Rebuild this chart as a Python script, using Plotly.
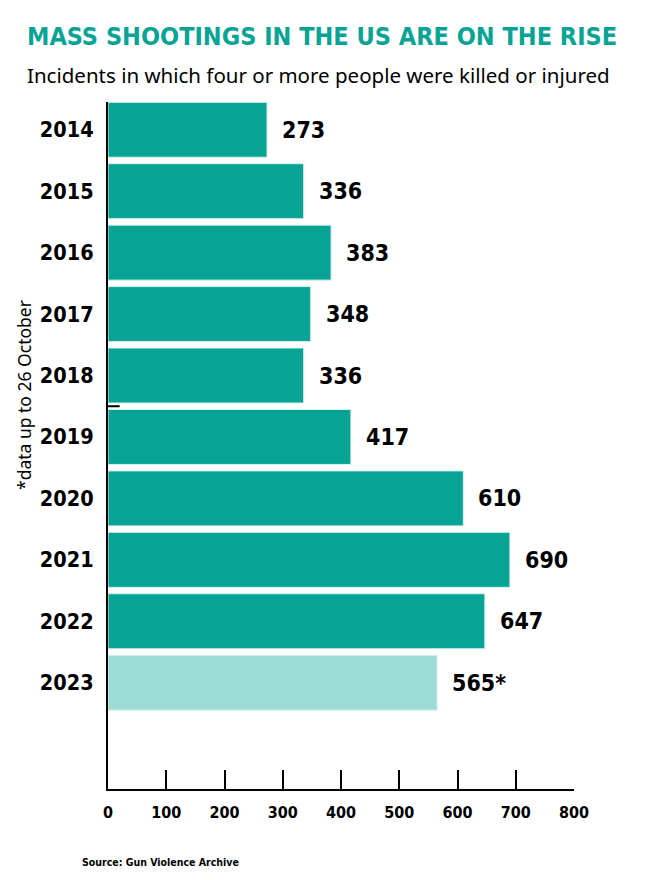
import plotly.graph_objects as go

years = ["2014", "2015", "2016", "2017", "2018", "2019", "2020", "2021", "2022", "2023"]
incidents = [273, 336, 383, 348, 336, 417, 610, 690, 647, 565]
value_labels = ["273", "336", "383", "348", "336", "417", "610", "690", "647", "565*"]
x_ticks = [0, 100, 200, 300, 400, 500, 600, 700, 800]

TEAL = "#07a496"
PALE = "#9ddcd6"
COND = "DejaVu Sans Condensed, sans-serif"
REG = "Noto Sans, Open Sans, sans-serif"

# 2023 is partial data -> lighter shade
bar_colors = [TEAL] * (len(years) - 1) + [PALE]

# plot area in px (page body adds 8px offset)
L, T, W, H = 100, 94, 466, 687

fig = go.Figure()
fig.add_trace(go.Bar(
    y=years, x=incidents, orientation="h",
    marker=dict(color=bar_colors, line=dict(color="#d9f2ef", width=1)),
    hoverinfo="skip",
))

# value labels right of each bar (y by category index)
for i, (v, lab) in enumerate(zip(incidents, value_labels)):
    fig.add_annotation(x=v, y=i, xref="x", yref="y", text="<b>" + lab + "</b>",
                       showarrow=False, xanchor="left", yanchor="middle", xshift=13,
                       font=dict(family=COND, size=23, color="black"))

fig.update_layout(
    width=654, height=880,
    margin=dict(l=L, r=654 - L - W, t=T, b=880 - T - H),
    paper_bgcolor="white", plot_bgcolor="white",
    showlegend=False, bargap=0.105,
)

fig.update_xaxes(
    range=[0, 800], tickvals=x_ticks, ticks="inside", ticklen=19, tickwidth=2,
    tickcolor="black", showline=True, linecolor="black", linewidth=2,
    showgrid=False, zeroline=False, fixedrange=True, ticklabelstandoff=8,
    tickfont=dict(family=COND, size=16, color="black", weight="bold"),
)
fig.update_yaxes(
    type="category", range=[10.73, -0.452], showline=True, linecolor="black",
    linewidth=2, showgrid=False, ticks="", ticklabelstandoff=8,
    tickfont=dict(family=COND, size=21.5, color="black", weight="bold"),
)

def px_x(p):
    return (p - 8 - L) / W

def px_y(p):
    return (T + H - (p - 8)) / H

# title / subtitle
fig.add_annotation(text="<b>MASS SHOOTINGS IN THE US ARE ON THE RISE</b>",
                   xref="paper", yref="paper", x=px_x(25), y=px_y(36),
                   xanchor="left", yanchor="middle", showarrow=False,
                   font=dict(family=COND, size=25, color=TEAL))
fig.add_annotation(text="Incidents in which four or more people were killed or injured",
                   xref="paper", yref="paper", x=px_x(25), y=px_y(75),
                   xanchor="left", yanchor="middle", showarrow=False,
                   font=dict(family=REG, size=20.5, color="black"))
# rotated note
fig.add_annotation(text="*data up to 26 October", textangle=-90,
                   xref="paper", yref="paper", x=px_x(24), y=px_y(395),
                   xanchor="center", yanchor="middle", showarrow=False,
                   font=dict(family=REG, size=17.5, color="black"))
# source
fig.add_annotation(text="<b>Source: Gun Violence Archive</b>",
                   xref="paper", yref="paper", x=px_x(80), y=px_y(862),
                   xanchor="left", yanchor="middle", showarrow=False,
                   font=dict(family=COND, size=10.5, color="black"))

# small stray dash on the y axis between 2018 and 2019
fig.add_shape(type="line", xref="x", yref="y", x0=0, x1=20, y0=4.5, y1=4.5,
              line=dict(color="black", width=2))

fig.write_html("out.html")
